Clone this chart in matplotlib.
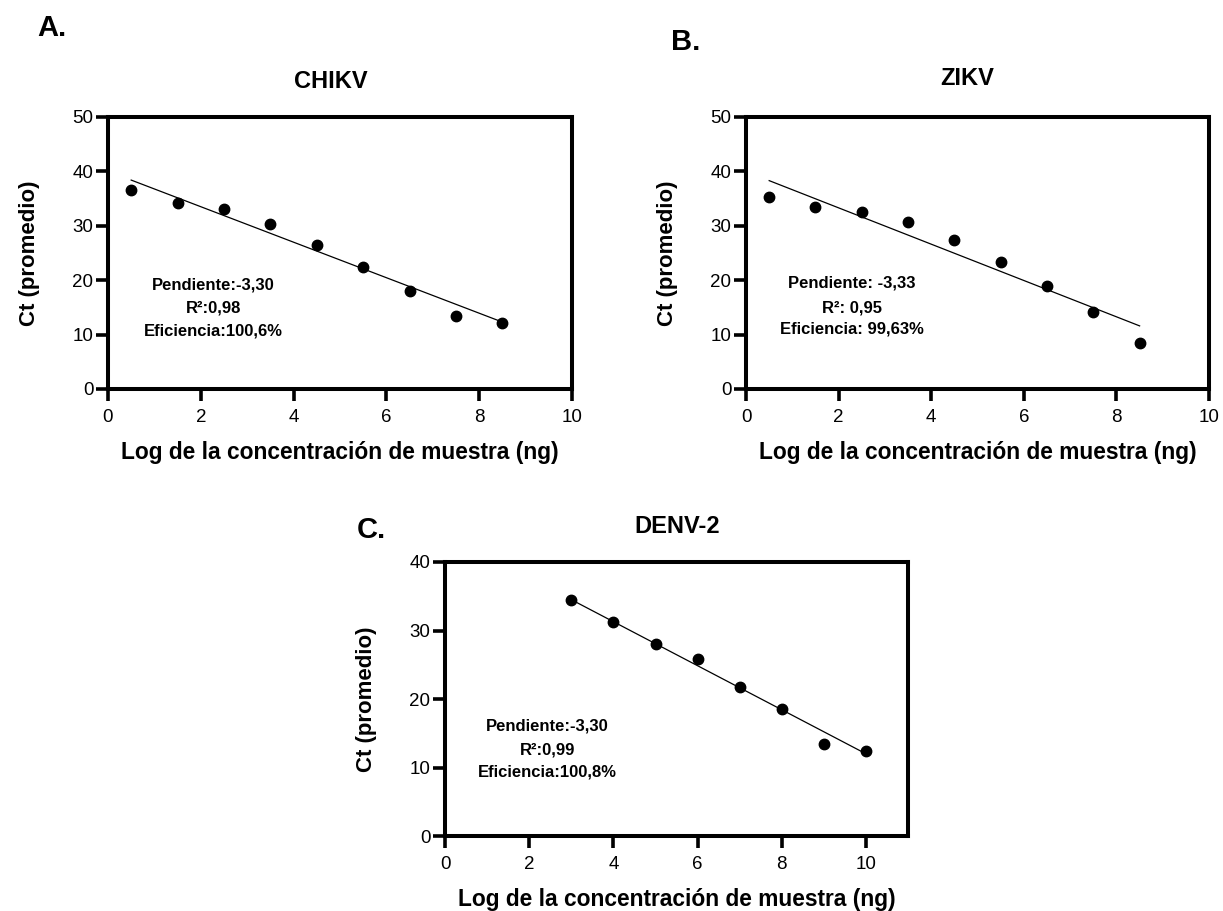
import numpy as np
import matplotlib
matplotlib.use("Agg")
import matplotlib.pyplot as plt

plt.rcParams['font.family'] = ['Liberation Sans', 'DejaVu Sans']

# CHIKV
x_chikv = [0.5, 1.5, 2.5, 3.5, 4.5, 5.5, 6.5, 7.5, 8.5]
ct_chikv = [36.6, 34.1, 33.0, 30.4, 26.5, 22.4, 18.0, 13.4, 12.1]
fit_x_chikv = [0.5, 8.5]
fit_y_chikv = [38.4, 12.3]
txt_chikv = ["Pendiente:-3,30", "R²:0,98", "Eficiencia:100,6%"]

# ZIKV
x_zikv = [0.5, 1.5, 2.5, 3.5, 4.5, 5.5, 6.5, 7.5, 8.5]
ct_zikv = [35.3, 33.5, 32.6, 30.7, 27.4, 23.4, 19.0, 14.2, 8.5]
fit_x_zikv = [0.5, 8.5]
fit_y_zikv = [38.3, 11.6]
txt_zikv = ["Pendiente: -3,33", "R²: 0,95", "Eficiencia: 99,63%"]

# DENV-2
x_denv = [3, 4, 5, 6, 7, 8, 9, 10]
ct_denv = [34.4, 31.3, 28.1, 25.8, 21.7, 18.5, 13.4, 12.4]
fit_x_denv = [3, 10]
fit_y_denv = [34.5, 12.0]
txt_denv = ["Pendiente:-3,30", "R²:0,99", "Eficiencia:100,8%"]

fig = plt.figure(figsize=(12.23, 9.11), dpi=100)

def panel(rect, x, y, fx, fy, title, txt, txt_pos, xlim, ylim, yticks, title_pos):
    ax = fig.add_axes(rect)
    ax.plot(x, y, 'o', color='black', markersize=7.5, zorder=3)
    ax.plot(fx, fy, '-', color='black', lw=0.9)
    ax.set_xlim(*xlim)
    ax.set_ylim(*ylim)
    ax.set_xticks([0, 2, 4, 6, 8, 10])
    ax.set_yticks(yticks)
    for s in ax.spines.values():
        s.set_linewidth(2.9)
    ax.tick_params(axis='both', direction='out', length=8.5, width=2.6, labelsize=13.5)
    ax.tick_params(axis='x', pad=6)
    ax.tick_params(axis='y', pad=2)
    ax.set_xlabel("Log de la concentración de muestra (ng)", fontsize=16.4, fontweight='bold')
    ax.set_ylabel("Ct (promedio)", fontsize=16, fontweight='bold')
    ax.xaxis.set_label_coords(0.5, -0.19)
    ax.yaxis.set_label_coords(-0.147, 0.5)
    ax.text(title_pos[0], title_pos[1], title, transform=ax.transAxes, ha='center',
            va='center', fontsize=17, fontweight='bold')
    tx, tys = txt_pos
    for line, ty in zip(txt, tys):
        ax.text(tx, ty, line, ha='center', va='center', fontsize=12, fontweight='bold')
    return ax

panel([0.0883, 0.5730, 0.3794, 0.2986], x_chikv, ct_chikv, fit_x_chikv, fit_y_chikv,
      "CHIKV", txt_chikv, (2.27, [19.1, 14.9, 10.7]), (0, 10), (0, 50),
      [0, 10, 20, 30, 40, 50], (0.48, 1.129))
panel([0.6100, 0.5730, 0.3786, 0.2986], x_zikv, ct_zikv, fit_x_zikv, fit_y_zikv,
      "ZIKV", txt_zikv, (2.29, [19.4, 14.9, 11.0]), (0, 10), (0, 50),
      [0, 10, 20, 30, 40, 50], (0.478, 1.143))
panel([0.3639, 0.0823, 0.3786, 0.3008], x_denv, ct_denv, fit_x_denv, fit_y_denv,
      "DENV-2", txt_denv, (2.43, [16.1, 12.6, 9.4]), (0, 11), (0, 40),
      [0, 10, 20, 30, 40], (0.502, 1.128))

fig.text(52 / 1223, 1 - 28 / 911, "A.", ha='center', va='center', fontsize=21, fontweight='bold')
fig.text(686 / 1223, 1 - 42 / 911, "B.", ha='center', va='center', fontsize=21, fontweight='bold')
fig.text(371 / 1223, 1 - 530 / 911, "C.", ha='center', va='center', fontsize=21, fontweight='bold')

fig.savefig("out.png", dpi=100, facecolor='white')
